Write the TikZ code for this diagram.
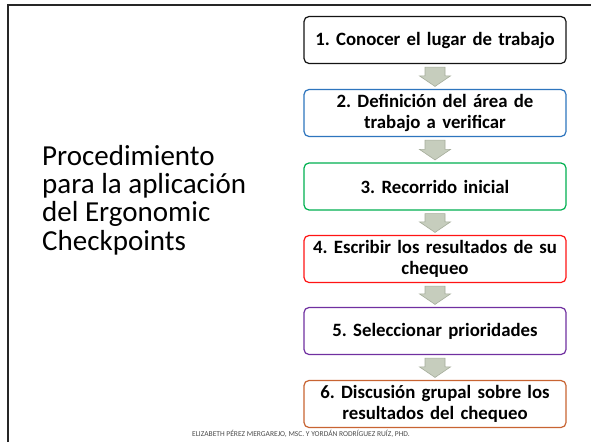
\documentclass[tikz,border=0pt]{standalone}
\usepackage{fontspec}
\setmainfont{Carlito}
\usetikzlibrary{calc}
\definecolor{c1}{RGB}{20,20,20}
\definecolor{c2}{RGB}{46,117,190}
\definecolor{c3}{RGB}{0,176,80}
\definecolor{c4}{RGB}{255,20,20}
\definecolor{c5}{RGB}{112,48,160}
\definecolor{c6}{RGB}{200,100,50}
\definecolor{arrfill}{RGB}{198,205,189}
\definecolor{arrdraw}{RGB}{165,173,155}
\tikzset{
  stepbox/.style={draw, line width=1.2pt, rounded corners=5pt, fill=white,
    minimum width=262pt, minimum height=47pt, text width=256pt, align=center,
    font=\fontsize{18.8}{20.5}\selectfont\bfseries, inner sep=2pt},
  blockarrow/.style={fill=arrfill, draw=arrdraw, line width=0.6pt},
}
\begin{document}
\frenchspacing
\begin{tikzpicture}[x=1pt,y=-1pt]
\useasboundingbox (0,0) rectangle (591,442);
\fill[white] (0,0) rectangle (591,442);
\draw[line width=2.6pt, black!85] (8,442) -- (8,5) -- (591,5);
\node[anchor=west, align=left, font=\fontsize{29}{28.2}\selectfont, inner sep=0pt] (title) at (42,200)
  {Procedimiento\\para la aplicación\\del Ergonomic\\Checkpoints};
\node[stepbox, draw=c1] (b1) at (435,40) {1. Conocer el lugar de trabajo};
\node[stepbox, draw=c2] (b2) at (435,113) {2. Definición del área de\\trabajo a verificar};
\node[stepbox, draw=c3] (b3) at (435,186.5) {3. Recorrido inicial};
\node[stepbox, draw=c4] (b4) at (435,259) {4. Escribir los resultados de su\\chequeo};
\node[stepbox, draw=c5] (b5) at (435,331) {5. Seleccionar prioridades};
\node[stepbox, draw=c6] (b6) at (435,404) {6. Discusión grupal sobre los\\resultados del chequeo};
\foreach \a/\b in {b1/b2,b2/b3,b3/b4,b4/b5,b5/b6}{
  \draw[blockarrow] let \p1=(\a.south), \p2=(\b.north) in
    ({\x1-10pt},{\y1-3pt}) -- ({\x1+10pt},{\y1-3pt}) -- ({\x1+10pt},{\y2+13pt})
    -- ({\x1+15.5pt},{\y2+13pt}) -- ({\x1},{\y2+2.5pt}) -- ({\x1-15.5pt},{\y2+13pt})
    -- ({\x1-10pt},{\y2+13pt}) -- cycle;
}
\node[font=\fontsize{7.5}{8}\selectfont, text=black!70, anchor=base] (foot) at (301,436)
  {ELIZABETH PÉREZ MERGAREJO, MSC. Y YORDÁN RODRÍGUEZ RUÍZ, PHD.};
\end{tikzpicture}
\end{document}
